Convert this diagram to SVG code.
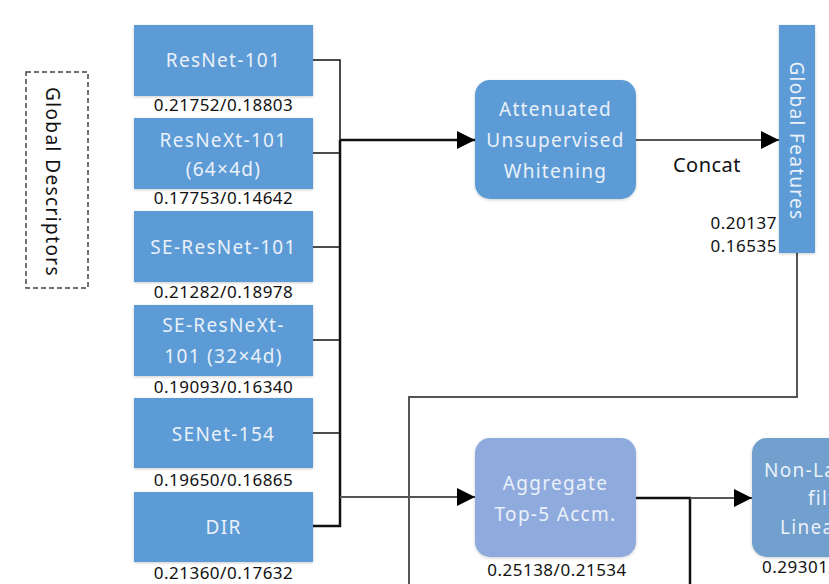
<svg xmlns="http://www.w3.org/2000/svg" width="829" height="584" viewBox="0 0 829 584">
<style>
.box{fill:#5B9BD5;filter:url(#sh)}
.agg{fill:#8FAADC;filter:url(#sh)}
.nl{fill:#719FCE;filter:url(#sh)}
.bt{font-family:"Noto Sans",sans-serif;font-size:19px;letter-spacing:1.3px;fill:#EAF1FA;text-anchor:middle}
.lab{font-family:"Noto Sans",sans-serif;font-size:17px;letter-spacing:0.5px;fill:#111;text-anchor:middle}
.blk{fill:none;stroke:#111;stroke-width:2.5}
.thin{fill:none;stroke:#111;stroke-width:1.5}
.gry{fill:none;stroke:#555;stroke-width:2}
</style>
<defs>
<filter id="sh" x="-10%" y="-10%" width="120%" height="120%">
<feDropShadow dx="0" dy="1" stdDeviation="1.5" flood-color="#000" flood-opacity="0.2"/>
</filter>
<marker id="ah" markerWidth="18" markerHeight="18" viewBox="0 0 18 18" refX="18" refY="9" orient="auto" markerUnits="userSpaceOnUse">
<path d="M0,0 L18,9 L0,18 Z" fill="#000"/>
</marker>
</defs>

<g id="global-descriptors">
<rect x="26" y="72" width="62" height="216" fill="none" stroke="#444" stroke-width="1.5" stroke-dasharray="5,3"/>
<text transform="translate(53,182) rotate(90)" font-family="Noto Sans,sans-serif" font-size="19" letter-spacing="1.4" fill="#111" text-anchor="middle" dominant-baseline="central">Global Descriptors</text>
</g>

<g id="connectors">
<path class="thin" d="M313,60 H340 V140"/>
<path class="thin" d="M313,153 H340"/>
<path class="thin" d="M313,247 H340"/>
<path class="thin" d="M313,340 H340"/>
<path class="thin" d="M313,433 H340"/>
<path class="blk" d="M313,526 H340 V140"/>
<path class="blk" d="M340,140 H475" marker-end="url(#ah)"/>
<path class="gry" d="M340,497 H475" marker-end="url(#ah)"/>
<path class="gry" d="M636,140 H779" marker-end="url(#ah)"/>
<path class="gry" d="M797,253 V397 H409 V584"/>
<path class="blk" d="M636,498 H690 V584"/>
<path class="gry" d="M690,498 H752" marker-end="url(#ah)"/>
</g>

<g id="resnet101">
<rect class="box" x="134" y="25" width="179" height="71"/>
<text class="bt" x="223.5" y="67">ResNet-101</text>
<text class="lab" x="223.5" y="111">0.21752/0.18803</text>
</g>
<g id="resnext101">
<rect class="box" x="134" y="118" width="179" height="71"/>
<text class="bt" x="223.5" y="147">ResNeXt-101</text>
<text class="bt" x="223.5" y="176">(64×4d)</text>
<text class="lab" x="223.5" y="204">0.17753/0.14642</text>
</g>
<g id="se-resnet101">
<rect class="box" x="134" y="211" width="179" height="71"/>
<text class="bt" x="223.5" y="254">SE-ResNet-101</text>
<text class="lab" x="223.5" y="298">0.21282/0.18978</text>
</g>
<g id="se-resnext101">
<rect class="box" x="134" y="305" width="179" height="71"/>
<text class="bt" x="223.5" y="332">SE-ResNeXt-</text>
<text class="bt" x="223.5" y="363">101 (32×4d)</text>
<text class="lab" x="223.5" y="393">0.19093/0.16340</text>
</g>
<g id="senet154">
<rect class="box" x="134" y="398" width="179" height="70"/>
<text class="bt" x="223.5" y="441">SENet-154</text>
<text class="lab" x="223.5" y="486">0.19650/0.16865</text>
</g>
<g id="dir">
<rect class="box" x="134" y="492" width="179" height="70"/>
<text class="bt" x="223.5" y="534">DIR</text>
<text class="lab" x="223.5" y="579">0.21360/0.17632</text>
</g>

<g id="whitening">
<rect class="box" x="475" y="80" width="161" height="119" rx="15"/>
<text class="bt" x="555.5" y="116">Attenuated</text>
<text class="bt" x="555.5" y="147">Unsupervised</text>
<text class="bt" x="555.5" y="178">Whitening</text>
</g>

<text id="concat" x="707" y="172" font-family="Noto Sans,sans-serif" font-size="20" letter-spacing="0.5" fill="#111" text-anchor="middle">Concat</text>

<g id="global-features">
<rect class="box" x="779" y="25" width="36" height="228"/>
<text class="bt" transform="translate(797,141) rotate(90)" dominant-baseline="central">Global Features</text>
<text class="lab" x="777" y="229" text-anchor="end" style="text-anchor:end">0.20137</text>
<text class="lab" x="777" y="252" style="text-anchor:end">0.16535</text>
</g>

<g id="aggregate">
<rect class="agg" x="475" y="438" width="161" height="119" rx="15"/>
<text class="bt" x="555.5" y="490">Aggregate</text>
<text class="bt" x="555.5" y="521">Top-5 Accm.</text>
<text class="lab" x="557" y="576">0.25138/0.21534</text>
</g>

<g id="non-landmark">
<rect class="nl" x="752" y="438" width="161" height="119" rx="15"/>
<text class="bt" x="764" y="477" style="text-anchor:start">Non-La</text>
<text class="bt" x="808" y="505" style="text-anchor:start">filt</text>
<text class="bt" x="780" y="534" style="text-anchor:start">Linea</text>
<text class="lab" x="762" y="573" style="text-anchor:start">0.29301/</text>
</g>
</svg>
